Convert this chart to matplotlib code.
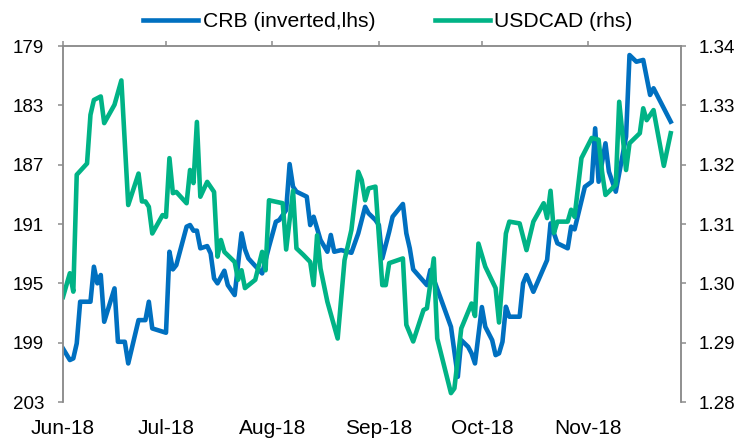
import pandas as pd
import matplotlib.pyplot as plt
import matplotlib.dates as mdates
from matplotlib.ticker import FormatStrFormatter

plt.rcParams['font.family'] = ['Liberation Sans', 'DejaVu Sans']

# days counted from 1 Jun 2018
start = pd.Timestamp('2018-06-01')

crb_days = [0, 2, 3, 4, 5, 8, 9, 10, 11, 12, 15, 16, 18, 19, 22, 24, 25, 26, 30, 31,
            32, 33, 36, 37, 38, 39, 40, 42, 43, 44, 45, 47, 48, 50, 52, 53, 54, 56, 58, 60,
            62, 63, 65, 66, 67, 68, 71, 72, 73, 75, 77, 78, 79, 81, 84, 86, 88, 89, 91, 92,
            93, 95, 96, 99, 100, 101, 102, 106, 107, 110, 113, 115, 116, 118, 119, 120, 122, 123, 125, 126,
            127, 128, 129, 130, 133, 134, 135, 137, 141, 142, 144, 147, 148, 149, 152, 154, 155, 156, 158, 159,
            161, 164, 165, 167, 169, 171, 172, 177]
crb = [199.4, 200.17, 200.06, 199.05, 196.24, 196.24, 193.88, 195.0, 194.44, 197.59,
       195.34, 198.94, 198.94, 200.4, 197.48, 197.48, 196.24, 198.04, 198.33, 192.87,
       194.06, 193.77, 191.18, 191.07, 191.45, 191.45, 192.64, 192.49, 192.98, 194.67,
       195.0, 194.15, 195.12, 195.79, 191.63, 192.71, 193.32, 193.83, 194.33, 192.53,
       190.85, 190.73, 190.06, 186.96, 188.49, 188.82, 189.16, 191.07, 190.51, 192.08,
       192.87, 191.74, 192.87, 192.76, 192.94, 191.63, 189.84, 190.28, 190.73, 191.07,
       193.32, 191.52, 190.51, 189.65, 191.63, 192.64, 194.06, 195.12, 194.1, 196.01,
       197.93, 201.3, 198.83, 199.28, 199.72, 200.4, 196.6, 197.93, 198.83, 199.84,
       199.72, 198.94, 196.58, 197.25, 197.25, 195.0, 194.44, 195.57, 193.43, 190.96,
       192.3, 192.64, 191.18, 191.36, 188.49, 188.15, 184.55, 188.15, 185.56, 187.47,
       188.82, 185.11, 179.61, 180.06, 179.94, 182.3, 181.85, 184.1]

cad_days = [0, 2, 3, 4, 7, 8, 9, 11, 12, 15, 17, 19, 22, 23, 24, 25, 26, 29, 30, 31,
            32, 33, 36, 37, 38, 39, 40, 42, 44, 45, 46, 47, 50, 51, 52, 53, 56, 58, 59, 60,
            64, 65, 67, 68, 70, 72, 73, 74, 75, 77, 80, 82, 84, 86, 87, 88, 89, 91, 93, 94,
            95, 99, 100, 102, 105, 106, 108, 109, 113, 114, 116, 119, 120, 121, 123, 126, 127, 129, 130, 133,
            135, 137, 140, 141, 142, 143, 144, 147, 148, 149, 151, 154, 156, 157, 158, 161, 162, 164, 165, 168,
            169, 170, 172, 175, 177]
usdcad = [1.2977, 1.3017, 1.2986, 1.3183, 1.3202, 1.3284, 1.3309, 1.3315, 1.3270, 1.3301,
          1.3342, 1.3132, 1.3185, 1.3138, 1.3138, 1.3129, 1.3084, 1.3115, 1.3112, 1.3211,
          1.3152, 1.3154, 1.3135, 1.3191, 1.3169, 1.3272, 1.3146, 1.3171, 1.3154, 1.3045,
          1.3073, 1.3053, 1.3036, 1.3006, 1.3022, 1.2992, 1.3006, 1.3053, 1.3022, 1.3140,
          1.3135, 1.3057, 1.3156, 1.3059, 1.3048, 1.3036, 1.2997, 1.3081, 1.3025, 1.2969,
          1.2907, 1.3039, 1.3090, 1.3188, 1.3174, 1.3140, 1.3160, 1.3163, 1.2997, 1.2997,
          1.3034, 1.3042, 1.2930, 1.2902, 1.2955, 1.2958, 1.3042, 1.2907, 1.2815, 1.2823,
          1.2924, 1.2966, 1.2945, 1.3067, 1.3028, 1.2992, 1.2934, 1.3084, 1.3104, 1.3101,
          1.3056, 1.3104, 1.3135, 1.3110, 1.3156, 1.3085, 1.3104, 1.3104, 1.3124, 1.3112,
          1.3211, 1.3245, 1.3242, 1.3188, 1.3149, 1.3166, 1.3306, 1.3191, 1.3236, 1.3253,
          1.3295, 1.3275, 1.3292, 1.3198, 1.3253]

crb_dates = start + pd.to_timedelta(crb_days, unit='D')
cad_dates = start + pd.to_timedelta(cad_days, unit='D')

BLUE = '#0070C0'
GREEN = '#00B386'
GREY = '#8c8c8c'
FS_Y = 13.5
FS_X = 15.0

fig = plt.figure(figsize=(7.42, 4.38), dpi=100)
ax = fig.add_axes([63 / 742, 1 - 402 / 438, (681 - 63) / 742, (402 - 46) / 438])
ax2 = ax.twinx()

l1, = ax.plot(crb_dates, crb, color=BLUE, lw=3.3, label='CRB (inverted,lhs)')
l2, = ax2.plot(cad_dates, usdcad, color=GREEN, lw=3.3, label='USDCAD (rhs)')

ax.set_ylim(203, 179)
ax.set_yticks(range(179, 204, 4))
ax2.set_ylim(1.28, 1.34)
ax2.set_yticks([1.28, 1.29, 1.30, 1.31, 1.32, 1.33, 1.34])
ax2.yaxis.set_major_formatter(FormatStrFormatter('%.2f'))

ax.set_xlim(start, pd.Timestamp('2018-11-28'))
ax.xaxis.set_major_locator(mdates.MonthLocator())
ax.xaxis.set_major_formatter(mdates.DateFormatter('%b-%y'))

for a in (ax, ax2):
    for s in a.spines.values():
        s.set_color(GREY)
        s.set_linewidth(1.1)
    a.spines['bottom'].set_visible(False)

ax.tick_params(axis='x', top=True, bottom=False, labeltop=False, labelbottom=True,
               length=3.5, width=1.1, color=GREY, labelsize=FS_X, pad=8.5)
ax.tick_params(axis='y', length=3.6, width=1.1, color=GREY, labelsize=FS_Y, pad=10)
ax2.tick_params(axis='y', length=3.6, width=1.1, color=GREY, labelsize=FS_Y, pad=9)

fig.legend(handles=[l1, l2], loc='center', bbox_to_anchor=(0.523, 0.95), ncol=2,
           frameon=False, fontsize=15.2, handlelength=2.6, handletextpad=0.2,
           columnspacing=2.85)

fig.savefig('out.png', dpi=100)
